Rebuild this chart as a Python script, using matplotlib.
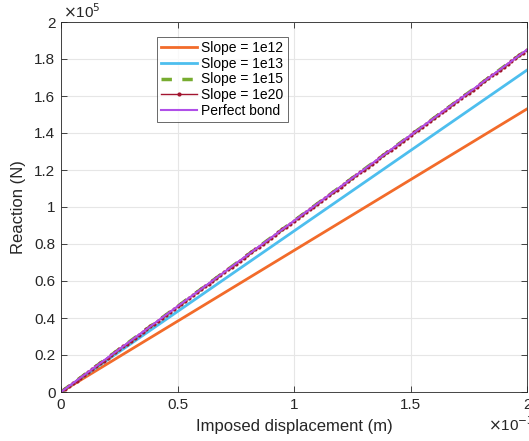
import numpy as np
import matplotlib
matplotlib.use("Agg")
import matplotlib.pyplot as plt

plt.rcParams['font.family'] = ['Liberation Sans', 'DejaVu Sans']

# Data (displacement in m, reaction in N)
disp_end = 2e-3
labels = ["Slope = 1e12", "Slope = 1e13", "Slope = 1e15", "Slope = 1e20", "Perfect bond"]
reaction_end = [1.53e5, 1.74e5, 1.85e5, 1.85e5, 1.85e5]
colors = ["#F26B2A", "#4DBEEE", "#77AC30", "#A2142F", "#B04FE8"]
styles = ["-", "-", "--", "-", "-"]
widths = [2.0, 2.0, 2.5, 1.0, 1.5]
markers = [None, None, None, "o", None]

disp = np.linspace(0, disp_end, 121)

fig = plt.figure(figsize=(5.29, 4.41), dpi=100)
ax = fig.add_axes([61/529, 1 - 392/441, 466/529, 370/441])

for lab, r, c, ls, lw, mk in zip(labels, reaction_end, colors, styles, widths, markers):
    y = disp * (r / disp_end)
    kw = {}
    if ls == "--":
        kw["dashes"] = (3, 3)
    ax.plot(disp, y, color=c, linestyle=ls, linewidth=lw, label=lab,
            marker=mk, markersize=2.0 if mk else 0, **kw)

ax.set_xlim(0, 2e-3)
ax.set_ylim(0, 2e5)
ax.set_xticks([0, 0.5e-3, 1e-3, 1.5e-3, 2e-3])
ax.set_xticklabels(["0", "0.5", "1", "1.5", "2"])
ax.set_yticks(np.arange(0, 2.01e5, 0.2e5))
ax.set_yticklabels(["0", "0.2", "0.4", "0.6", "0.8", "1", "1.2", "1.4", "1.6", "1.8", "2"])
ax.tick_params(direction="in", length=4, labelsize=11, colors="#262626", width=0.6,
               top=True, right=True, pad=4)
ax.grid(True, color="#E6E6E6", linewidth=0.8)
ax.set_axisbelow(True)
for s in ax.spines.values():
    s.set_color("#262626")
    s.set_linewidth(0.6)

ax.set_xlabel("Imposed displacement (m)", fontsize=12, color="#262626", labelpad=5)
ax.set_ylabel("Reaction (N)", fontsize=12, color="#262626", labelpad=6)

fig.text(63/529, 1 - 12/441, r"$\times$10$^{5}$", fontsize=11, color="#262626", va="center", ha="left")
fig.text(488/529, 1 - 425/441, r"$\times$10$^{-3}$", fontsize=11, color="#262626", va="center", ha="left")

leg = ax.legend(loc="upper left", bbox_to_anchor=((157 - 61) / 466, (392 - 37) / 370),
                fontsize=10, frameon=True, fancybox=False, edgecolor="#262626",
                handlelength=2.6, handletextpad=0.3, borderpad=0.3, labelspacing=0.12,
                borderaxespad=0)
leg.get_frame().set_linewidth(0.6)

fig.savefig("out.png", dpi=100)
